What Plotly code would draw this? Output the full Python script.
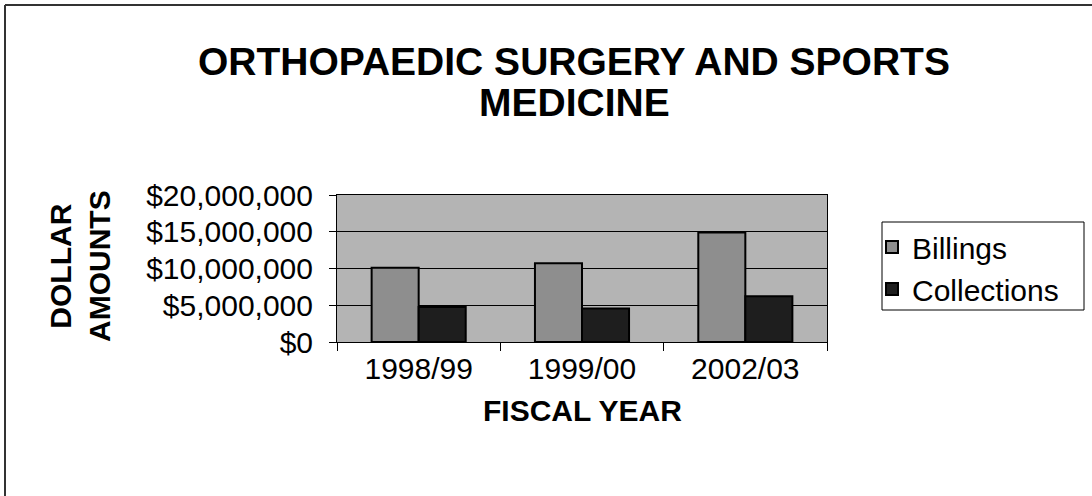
import plotly.graph_objects as go

categories = ["1998/99", "1999/00", "2002/03"]
billings = [10100000, 10700000, 14900000]
collections = [4750000, 4550000, 6230000]
y_ticks = [0, 5000000, 10000000, 15000000, 20000000]

FONT = "Liberation Sans, Arial, sans-serif"
W, H = 1092, 496
L, R, T, B = 337, 265, 195, 154
PW, PH = W - L - R, H - T - B


def px_x(px):
    return (px - L) / PW


def px_y(py):
    return (H - B - py) / PH


fig = go.Figure()
fig.add_trace(go.Bar(
    name="Billings", x=categories, y=billings,
    marker=dict(color="#8e8e8e", line=dict(color="#000000", width=2)),
))
fig.add_trace(go.Bar(
    name="Collections", x=categories, y=collections,
    marker=dict(color="#1e1e1e", line=dict(color="#000000", width=2)),
))

fig.update_layout(
    width=W, height=H,
    margin=dict(l=L, r=R, t=T, b=B),
    paper_bgcolor="white",
    plot_bgcolor="#b4b4b4",
    barmode="group",
    bargap=0.424,
    bargroupgap=0,
    font=dict(family=FONT, color="black", size=30),
    showlegend=True,
    legend=dict(
        x=px_x(872), y=px_y(221), xanchor="left", yanchor="top",
        borderwidth=0, bgcolor="rgba(0,0,0,0)",
        font=dict(family=FONT, size=30, color="black"),
        itemwidth=30, tracegroupgap=0,
    ),
)

fig.update_xaxes(
    type="category",
    showline=True, linecolor="black", linewidth=1, mirror=True,
    ticks="outside", tickson="boundaries", ticklen=8, tickcolor="black",
    tickfont=dict(family=FONT, size=30, color="black"),
    showgrid=False,
)
fig.update_yaxes(
    range=[0, 20000000], tickvals=y_ticks, tickformat="$,.0f",
    showline=True, linecolor="black", linewidth=1, mirror=True,
    ticks="outside", ticklen=7, tickcolor="black",
    tickfont=dict(family=FONT, size=30, color="black"),
    showgrid=True, gridcolor="black", gridwidth=1,
    zeroline=False,
    ticklabelstandoff=10,
)

title_lines = [("<b>ORTHOPAEDIC SURGERY AND SPORTS</b>", 61), ("<b>MEDICINE</b>", 102)]
for text, yc in title_lines:
    fig.add_annotation(
        text=text, xref="paper", yref="paper",
        x=px_x(574), y=px_y(yc),
        xanchor="center", yanchor="middle", showarrow=False,
        font=dict(family=FONT, size=39, color="black"),
    )

fig.add_annotation(
    text="<b>DOLLAR<br>AMOUNTS</b>", xref="paper", yref="paper",
    x=px_x(80), y=px_y(266), xanchor="center", yanchor="middle",
    textangle=-90, showarrow=False,
    font=dict(family=FONT, size=30, color="black"),
)
fig.add_annotation(
    text="<b>FISCAL YEAR</b>", xref="paper", yref="paper",
    x=px_x(582), y=px_y(410), xanchor="center", yanchor="middle",
    showarrow=False,
    font=dict(family=FONT, size=30, color="black"),
)

# legend frame
fig.add_shape(type="rect", xref="paper", yref="paper",
              x0=px_x(882), x1=px_x(1084), y0=px_y(222), y1=px_y(310),
              line=dict(color="black", width=1), fillcolor="rgba(0,0,0,0)")

# outer frame (top and left edges visible in reference)
fig.add_shape(type="line", xref="paper", yref="paper",
              x0=px_x(5), x1=px_x(1092), y0=px_y(5), y1=px_y(5),
              line=dict(color="#333333", width=2))
fig.add_shape(type="line", xref="paper", yref="paper",
              x0=px_x(5), x1=px_x(5), y0=px_y(5), y1=px_y(496),
              line=dict(color="#333333", width=2))

fig.write_html("out.html", config={"displayModeBar": False},
               post_script="document.body.style.margin='0';")
